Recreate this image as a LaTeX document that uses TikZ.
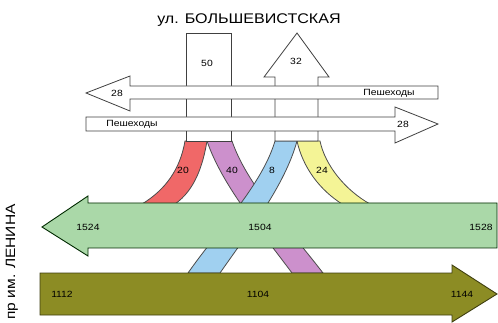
\documentclass[tikz,border=0pt]{standalone}
\usepackage{fontspec}
\setmainfont{Liberation Sans}
\newfontfamily\widesans[FakeStretch=1.15]{Liberation Sans}
\usetikzlibrary{positioning}
\definecolor{roadgreen}{RGB}{170,216,168}
\definecolor{roadolive}{RGB}{140,140,36}
\definecolor{bandred}{RGB}{240,104,104}
\definecolor{bandviolet}{RGB}{204,144,204}
\definecolor{bandblue}{RGB}{160,208,240}
\definecolor{bandyellow}{RGB}{244,244,150}

\begin{document}
\begin{tikzpicture}[x=1pt,y=-1pt,
    band/.style={draw=black!70,line width=0.8pt},
    road/.style={draw=black!75,fill=white,line width=0.8pt},
    num/.style={font=\widesans\fontsize{9}{9}\selectfont,inner sep=0pt},
    walk/.style={font=\widesans\fontsize{9}{9}\selectfont,inner sep=0pt}]
  \useasboundingbox (0,0) rectangle (498,323);

  % turning flows
  \filldraw[band,fill=bandred] (185,141) .. controls (180,170) and (165,190) .. (142,204)
    -- (175,204) .. controls (195,190) and (203,165) .. (207,141) -- cycle;
  \filldraw[band,fill=bandyellow] (297,141) .. controls (303,168) and (320,190) .. (342,204)
    -- (370,204) .. controls (345,190) and (325,165) .. (320,141) -- cycle;
  \filldraw[band,fill=bandviolet] (207,141) .. controls (222,185) and (260,230) .. (292,273)
    -- (323,273) .. controls (290,230) and (247,185) .. (232,141) -- cycle;
  \filldraw[band,fill=bandblue] (275,141) .. controls (262,185) and (218,230) .. (188,273)
    -- (220,273) .. controls (250,230) and (285,185) .. (297,141) -- cycle;
  \node[num] (f20) at (183,170) {20};
  \node[num] (f40) at (232,170) {40};
  \node[num] (f8) at (272,170) {8};
  \node[num] (f24) at (322,170) {24};

  % пр. им. Ленина
  \filldraw[draw=black!60!green!40!black,fill=roadgreen,line width=0.9pt]
    (497,203) -- (88,203) -- (88,196) -- (42,227) -- (88,256) -- (88,248) -- (497,248) -- cycle;
  \filldraw[draw=roadolive!45!black,fill=roadolive,line width=0.9pt]
    (40,273) -- (452,273) -- (452,265) -- (497,294) -- (452,322) -- (452,315) -- (40,315) -- cycle;
  \foreach \x/\v/\n in {88/1524/wl,260/1504/wm,481/1528/wr}
    \node[num] (\n) at (\x,227) {\v};
  \foreach \x/\v/\n in {62/1112/el,258/1104/em,462/1144/er}
    \node[num] (\n) at (\x,294) {\v};
  \node[rotate=90,font=\widesans\fontsize{13.5}{14}\selectfont] (lenin) at (12,262) {пр им. ЛЕНИНА};

  % ул. Большевистская
  \filldraw[road] (186,33) rectangle (231,141);
  \filldraw[road] (275,141) -- (275,77) -- (264,77) -- (297,33) -- (329,77) -- (318,77) -- (318,141) -- cycle;
  \node[num] (in50) at (207,63) {50};
  \node[num] (out32) at (296,61) {32};
  \node[font=\widesans\fontsize{14}{14}\selectfont] (title) at (249,20) {ул. БОЛЬШЕВИСТСКАЯ};

  % пешеходы
  \filldraw[road] (438,86) -- (130,86) -- (130,76) -- (86,93) -- (130,111) -- (130,99) -- (438,99) -- cycle;
  \filldraw[road] (86,117) -- (395,117) -- (395,107) -- (438,124) -- (395,143) -- (395,131) -- (86,131) -- cycle;
  \node[num] (p1) at (117,93) {28};
  \node[walk] (ped1) at (389,93) {Пешеходы};
  \node[walk] (ped2) at (132,124) {Пешеходы};
  \node[num] (p2) at (403,124) {28};
\end{tikzpicture}
\end{document}
